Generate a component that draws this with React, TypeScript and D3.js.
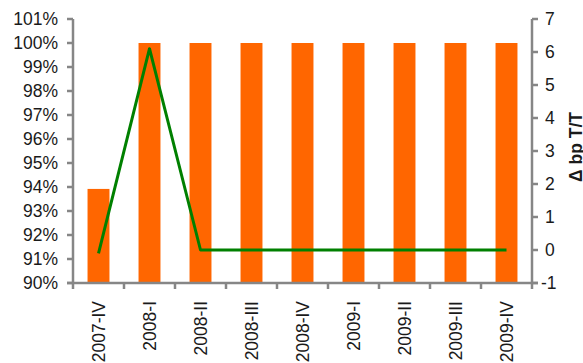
import React from "react";
import * as d3 from "d3";

const categories = ["2007-IV", "2008-I", "2008-II", "2008-III", "2008-IV", "2009-I", "2009-II", "2009-III", "2009-IV"];
const barValues = [93.92, 100, 100, 100, 100, 100, 100, 100, 100];
const lineValues = [-0.1, 6.1, 0, 0, 0, 0, 0, 0, 0];
const leftTicks = [90, 91, 92, 93, 94, 95, 96, 97, 98, 99, 100, 101];
const rightTicks = [-1, 0, 1, 2, 3, 4, 5, 6, 7];
const rightTitle = "Δ bp T/T";

export default function App() {
  const W = 583, H = 363;
  const x0 = 73, x1 = 532, yTop = 19, yBot = 283;
  const x = d3.scaleBand().domain(categories).range([x0, x1]).paddingInner(0.57).paddingOuter(0.285);
  const band = d3.scaleBand().domain(categories).range([x0, x1]);
  const yL = d3.scaleLinear().domain([90, 101]).range([yBot, yTop]);
  const yR = d3.scaleLinear().domain([-1, 7]).range([yBot, yTop]);
  const line = d3.line<number>().x((_, i) => band(categories[i])! + band.bandwidth() / 2).y(d => yR(d));
  const axisColor = "#868686";
  const font = "'Liberation Sans', Arial, sans-serif";
  const fs = 17.5;
  return (
    <svg width={W} height={H} style={{ position: "absolute", left: 0, top: 0 }} fontFamily={font}>
      {barValues.map((v, i) => (
        <rect key={i} x={x(categories[i])} y={yL(v)} width={x.bandwidth()} height={yBot - yL(v)} fill="#FF6600" />
      ))}
      <path d={line(lineValues)!} fill="none" stroke="#008000" strokeWidth={3} strokeLinejoin="round" />
      {/* left axis */}
      <line x1={x0} x2={x0} y1={yTop} y2={yBot} stroke={axisColor} strokeWidth={2.5} />
      {leftTicks.map(t => (
        <g key={t}>
          <line x1={x0 - 6} x2={x0} y1={yL(t)} y2={yL(t)} stroke={axisColor} strokeWidth={2.5} />
          <text x={58} y={yL(t)} dy="0.36em" textAnchor="end" fontSize={fs} fill="#1a1a1a">{t}%</text>
        </g>
      ))}
      {/* right axis */}
      <line x1={x1} x2={x1} y1={yTop} y2={yBot} stroke={axisColor} strokeWidth={2.5} />
      {rightTicks.map(t => (
        <g key={t}>
          <line x1={x1} x2={x1 + 6} y1={yR(t)} y2={yR(t)} stroke={axisColor} strokeWidth={2.5} />
          <text x={t < 0 ? 541 : 545} y={yR(t)} dy="0.36em" textAnchor="start" fontSize={fs} fill="#1a1a1a">{t}</text>
        </g>
      ))}
      {/* bottom axis */}
      <line x1={x0 - 6} x2={x1 + 6} y1={yBot} y2={yBot} stroke={axisColor} strokeWidth={2.5} />
      {[...categories.map(c => band(c)!), x1].map((p, i) => (
        <line key={i} x1={p} x2={p} y1={yBot} y2={yBot + 6} stroke={axisColor} strokeWidth={2.5} />
      ))}
      {categories.map(c => {
        const cx = band(c)! + band.bandwidth() / 2;
        return (
          <text key={c} transform={`translate(${cx},${301}) rotate(-90)`} dy="0.36em" textAnchor="end" fontSize={fs} fill="#1a1a1a">{c}</text>
        );
      })}
      <text transform={`translate(${582},${147}) rotate(-90)`} textAnchor="middle" fontSize={17.5} fontWeight="bold" fill="#1a1a1a">{rightTitle}</text>
    </svg>
  );
}
